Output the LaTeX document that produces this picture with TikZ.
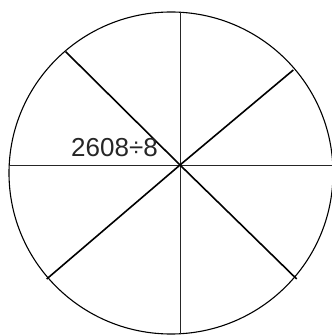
\documentclass[tikz,border=0pt]{standalone}
\usepackage{fontspec}
\setmainfont{Liberation Sans}
\begin{document}
\begin{tikzpicture}[x=1pt,y=-1pt,
  rim/.style={line width=1.1pt,black},
  axisline/.style={line width=0.9pt,black!85},
  diag/.style={line width=1.6pt,black},
  lbl/.style={inner sep=0pt,anchor=base west,font=\fontsize{26}{30}\selectfont,text=black!85}]
\useasboundingbox (0,0) rectangle (331,336);
\draw[rim] (171,173) ellipse [x radius=162, y radius=161];
\coordinate (c) at (180,165);
\coordinate (t) at (180,12);
\coordinate (b) at (180,334);
\coordinate (l) at (8.5,165);
\coordinate (r) at (333,165);
\coordinate (ul) at (65.7,51.7);
\coordinate (ur) at (293.3,70);
\coordinate (ll) at (46.7,279);
\coordinate (lr) at (296.7,279);
\draw[axisline] (t) -- (b);
\draw[axisline] (l) -- (r);
\draw[diag] (ul) -- (c) -- (lr);
\draw[diag] (ur) -- (c) -- (ll);
\node[lbl] (q) at (71,156.7) {2608÷8};
\end{tikzpicture}
\end{document}
